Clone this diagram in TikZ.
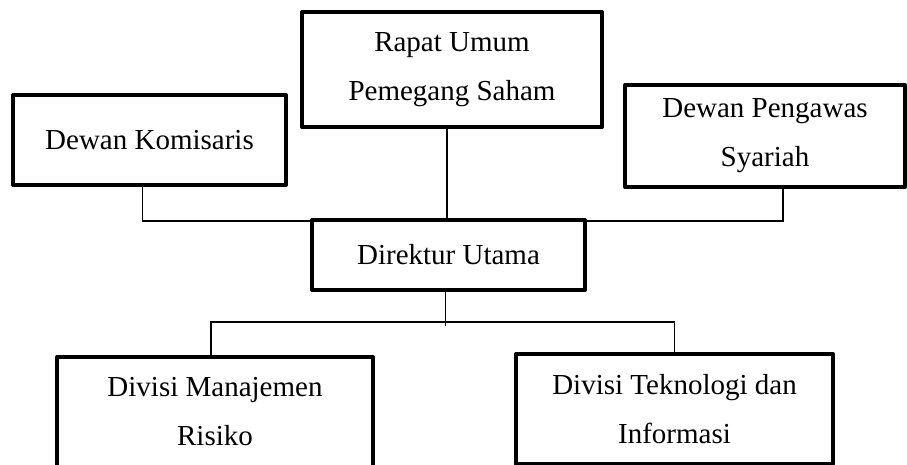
\documentclass[tikz,border=0pt]{standalone}
\usepackage{fontspec}
\setmainfont{Liberation Serif}
\usetikzlibrary{calc}

\begin{document}
\begin{tikzpicture}[x=1pt,y=-1pt,
  box/.style={draw,line width=4pt,line join=round,align=center,inner sep=0pt,
    font=\fontsize{29}{49}\selectfont},
  conn/.style={line width=1.5pt}]
\useasboundingbox (0,0) rectangle (907,464);
% Top row of the chart
\node[box,minimum width=273,minimum height=90] (dk) at (149.5,140) {Dewan Komisaris};
\node[box,minimum width=300,minimum height=115] (rups) at (452,69.5) {Rapat Umum\\Pemegang Saham};
\node[box,minimum width=280,minimum height=102] (dps) at (765,136) {Dewan Pengawas\\Syariah};
% Direktur in the middle
\node[box,minimum width=273,minimum height=70] (dir) at (448.5,255) {Direktur Utama};
% Divisions at the bottom
\node[box,minimum width=316,minimum height=110] (dmr) at (215,412) {Divisi Manajemen\\Risiko};
\node[box,minimum width=317,minimum height=110] (dti) at (674.5,409) {Divisi Teknologi dan\\Informasi};
% Lines to the direktur
\draw[conn] ([xshift=-7pt]dk.south) -- ++(0,34) -| ([xshift=18pt]dps.south);
\draw[conn] ([xshift=-5pt]rups.south) -- ([xshift=-5pt]rups.south |- dir.north);
% Lines to the divisions
\draw[conn] ([xshift=-3pt]dir.south) -- ++(0,34);
\draw[conn] ([xshift=-4pt]dmr.north) -- ++(0,-33) -| (dti.north);
\end{tikzpicture}
\end{document}
